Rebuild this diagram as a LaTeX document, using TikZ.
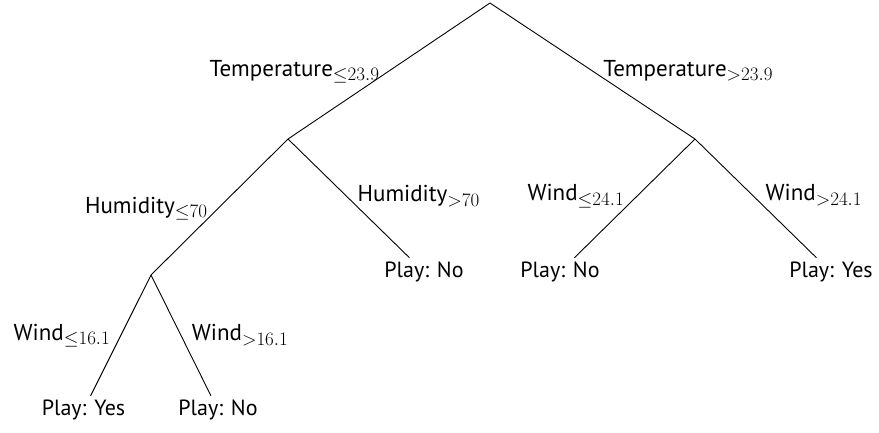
\RequirePackage{fix-cm}
\documentclass[tikz,border=0pt]{standalone}
\usepackage{fontspec}
\setmainfont{PT Sans}
\DeclareMathSizes{23}{23}{19}{14}
\begin{document}
\begin{tikzpicture}[x=1pt,y=-1pt,
  leaf/.style={inner sep=4pt, font=\fontsize{22}{26}\selectfont},
  lbl/.style={inner sep=0pt, font=\fontsize{23}{27}\selectfont},
  edge/.style={draw=black, line width=0.9pt}]
\useasboundingbox (0,0) rectangle (879,432);
\coordinate (r) at (490,3);
\coordinate (a) at (288,139);
\coordinate (b) at (695,139);
\coordinate (c) at (151,275);
\node[leaf] (l1) at (424,272) {Play: No};
\node[leaf] (l2) at (560,272) {Play: No};
\node[leaf] (l3) at (831,272) {Play: Yes};
\node[leaf] (l4) at (83.5,410) {Play: Yes};
\node[leaf] (l5) at (218,410) {Play: No};
\draw[edge] (r) -- node[lbl, midway, anchor=base east, xshift=-9pt, yshift=-5pt] {Temperature$_{\leq 23.9}$} (a);
\draw[edge] (r) -- node[lbl, midway, anchor=base west, xshift=10.5pt, yshift=-5pt] {Temperature$_{> 23.9}$} (b);
\draw[edge] (a) -- node[lbl, midway, anchor=base east, xshift=-11.5pt, yshift=-6pt] {Humidity$_{\leq 70}$} (c);
\draw[edge] (a) -- node[lbl, midway, anchor=base west, xshift=8.5pt, yshift=-3.5pt] {Humidity$_{> 70}$} (l1);
\draw[edge] (b) -- node[lbl, midway, anchor=base east, xshift=-10pt, yshift=-2.5pt] {Wind$_{\leq 24.1}$} (l2);
\draw[edge] (b) -- node[lbl, midway, anchor=base west, xshift=9.5pt, yshift=-2.5pt] {Wind$_{> 24.1}$} (l3);
\draw[edge] (c) -- node[lbl, midway, anchor=base east, xshift=-10pt, yshift=-5pt] {Wind$_{\leq 16.1}$} (l4);
\draw[edge] (c) -- node[lbl, midway, anchor=base west, xshift=10.5pt, yshift=-5.5pt] {Wind$_{> 16.1}$} (l5);
\end{tikzpicture}
\end{document}
